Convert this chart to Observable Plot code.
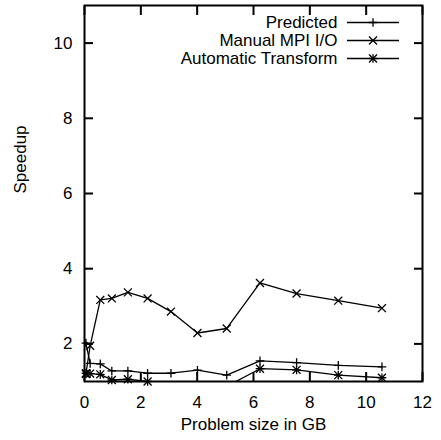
<!DOCTYPE html>
<html><head><meta charset="utf-8">
<script src="https://cdn.jsdelivr.net/npm/d3@7"></script>
<script src="https://cdn.jsdelivr.net/npm/@observablehq/plot@0.6"></script>
<style>body{margin:0;background:#fff} #chart{width:441px;height:440px}</style>
</head><body><div id="chart"></div>
<script>
const sizes = [0.05, 0.2, 0.56, 0.97, 1.54, 2.24, 3.07, 4.01, 5.05, 6.23, 7.53, 9.01, 10.56];
const predicted = [2.02, 1.48, 1.47, 1.28, 1.28, 1.22, 1.22, 1.30, 1.17, 1.55, 1.50, 1.43, 1.39];
const manual = [1.2, 1.95, 3.17, 3.21, 3.37, 3.21, 2.86, 2.29, 2.41, 3.62, 3.34, 3.15, 2.95];
const automatic = [1.22, 1.21, 1.19, 1.04, 1.06, 1.0, 0.8, 0.75, 0.87, 1.34, 1.31, 1.17, 1.1];
const seriesNames = ["Predicted", "Manual MPI I/O", "Automatic Transform"];
const xTicks = [0, 2, 4, 6, 8, 10, 12];
const yTicks = [2, 4, 6, 8, 10];
const xLabel = "Problem size in GB";
const yLabel = "Speedup";

const rows = [];
[predicted, manual, automatic].forEach((vals, s) =>
  vals.forEach((v, i) => rows.push({series: seriesNames[s], x: sizes[i], y: v})));
const visible = name => rows.filter(d => d.series === name && d.y >= 1);

const font = "'Liberation Sans', Arial, Helvetica, sans-serif";
const plusR = 2.9, timesR = 3.7;
const lw = 1.3;
const rowGap = 18;

const plot = Plot.plot({
  width: 441, height: 440,
  marginLeft: 84, marginRight: 19, marginTop: 5, marginBottom: 59,
  style: {fontFamily: font, fontSize: "17px", color: "#000", background: "#fff"},
  x: {domain: [0, 12], label: null},
  y: {domain: [1, 11], label: null},
  marks: [
    Plot.line(rows, {x: "x", y: "y", z: "series", stroke: "#000", strokeWidth: lw, clip: true}),
    Plot.dot(visible("Predicted"), {x: "x", y: "y", symbol: "plus", r: plusR, stroke: "#000", strokeWidth: lw}),
    Plot.dot(visible("Manual MPI I/O"), {x: "x", y: "y", symbol: "times", r: timesR, stroke: "#000", strokeWidth: lw}),
    Plot.dot(visible("Automatic Transform"), {x: "x", y: "y", symbol: "plus", r: plusR, stroke: "#000", strokeWidth: lw}),
    Plot.dot(visible("Automatic Transform"), {x: "x", y: "y", symbol: "times", r: timesR, stroke: "#000", strokeWidth: lw}),
    Plot.axisX({ticks: xTicks, tickSize: -9, tickPadding: 23, strokeWidth: 2, label: null}),
    Plot.axisX({anchor: "top", ticks: xTicks, tickSize: -9, tickFormat: () => "", strokeWidth: 2, label: null}),
    Plot.axisY({ticks: yTicks, tickSize: -9, tickPadding: 21, strokeWidth: 2, label: null}),
    Plot.axisY({anchor: "right", ticks: yTicks, tickSize: -9, tickFormat: () => "", strokeWidth: 2, label: null}),
    Plot.frame({stroke: "#000", strokeWidth: 2}),
    Plot.text([xLabel], {text: d => d, frameAnchor: "bottom", lineAnchor: "middle", dy: 43, fill: "#000"}),
    Plot.text([yLabel], {text: d => d, frameAnchor: "left", lineAnchor: "middle", rotate: -90, dx: -64, fill: "#000"}),
    ...seriesNames.map((name, i) =>
      Plot.text([name], {text: d => d, frameAnchor: "top-right", lineAnchor: "middle", textAnchor: "end", dx: -85, dy: 17.5 + i * rowGap, fill: "#000"}))
  ]
});
document.getElementById("chart").appendChild(plot);

// legend samples (line + symbol) next to legend labels
const svg = d3.select(plot);
const x0 = 441 - 19 - 75, x1 = 441 - 19 - 23, xm = (x0 + x1) / 2;
const sym = (type, r) => d3.symbol(type, Math.PI * r * r)();
const legendSymbols = [
  [[d3.symbolPlus, plusR]],
  [[d3.symbolTimes, timesR]],
  [[d3.symbolPlus, plusR], [d3.symbolTimes, timesR]]
];
const g = svg.append("g").attr("stroke", "#000").attr("fill", "none").attr("stroke-width", lw);
seriesNames.forEach((name, i) => {
  const yy = 5 + 17.5 + i * rowGap;
  g.append("line").attr("x1", x0).attr("x2", x1).attr("y1", yy).attr("y2", yy);
  legendSymbols[i].forEach(([t, r]) =>
    g.append("path").attr("d", sym(t, r)).attr("transform", `translate(${xm},${yy})`));
});
</script></body></html>
